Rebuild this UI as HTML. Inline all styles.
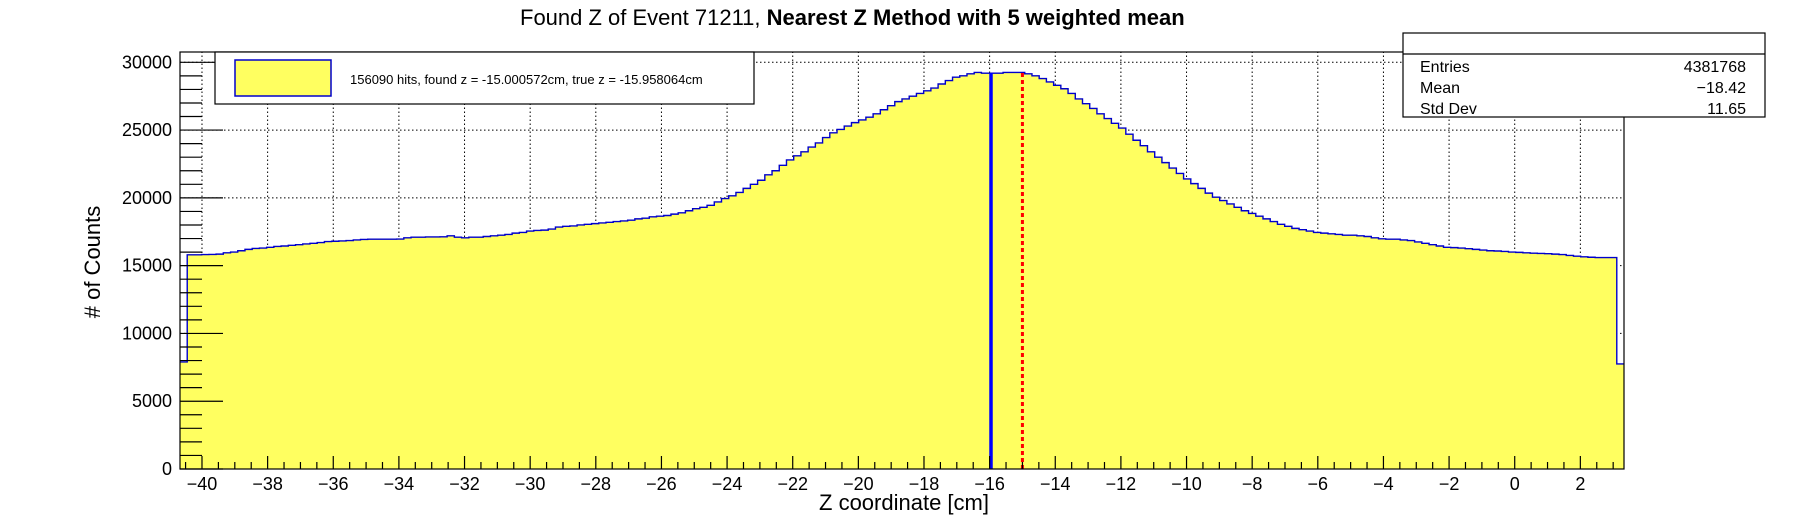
<!DOCTYPE html>
<html><head><meta charset="utf-8">
<style>
html,body{margin:0;padding:0;background:#fff;}
svg{display:block;font-family:"Liberation Sans",sans-serif;}
</style></head>
<body>
<svg id="chart" width="1796" height="522" viewBox="0 0 1796 522" xmlns="http://www.w3.org/2000/svg">
<text x="520" y="25" font-size="22">Found Z of Event 71211,   <tspan font-weight="bold">Nearest Z Method with 5 weighted mean</tspan></text>
<g id="grid"></g>
<g id="hist"></g>
<g id="marks"></g>
<g id="axes"></g>
<text x="904" y="510" font-size="22" text-anchor="middle">Z coordinate [cm]</text>
<text transform="translate(100,262) rotate(-90)" font-size="22" text-anchor="middle"># of Counts</text>
<g>
<rect x="215" y="52" width="539" height="52" fill="#fff" stroke="#000" stroke-width="1.2"/>
<rect x="235" y="60" width="96" height="36" fill="#ffff60" stroke="#0000cc" stroke-width="1.5"/>
<text x="350" y="84" font-size="13">156090 hits, found z = -15.000572cm, true z = -15.958064cm</text>
</g>
<g>
<rect x="1403" y="33" width="362" height="84" fill="#fff" stroke="#000" stroke-width="1.2"/>
<line x1="1403" y1="54" x2="1765" y2="54" stroke="#000" stroke-width="1.2"/>
<text x="1420" y="72" font-size="16">Entries</text>
<text x="1746" y="72" font-size="16" text-anchor="end">4381768</text>
<text x="1420" y="93" font-size="16">Mean</text>
<text x="1746" y="93" font-size="16" text-anchor="end">−18.42</text>
<text x="1420" y="114" font-size="16">Std Dev</text>
<text x="1746" y="114" font-size="16" text-anchor="end">11.65</text>
</g>
</svg>
<script>
const binStart = -40.67;
const binWidth = 0.22;
const counts = [7900,15800,15800,15820,15830,15850,15950,16000,16100,16200,
16270,16300,16350,16420,16450,16500,16550,16600,16650,16700,
16780,16800,16820,16850,16900,16930,16950,16950,16950,16950,
16960,17050,17100,17100,17120,17120,17130,17200,17100,17050,
17100,17100,17150,17200,17250,17300,17400,17450,17550,17600,
17620,17700,17850,17900,17930,18000,18050,18100,18150,18200,
18250,18300,18350,18450,18500,18600,18650,18700,18800,18900,
19050,19200,19300,19450,19700,19950,20150,20400,20700,21000,
21300,21700,22000,22400,22800,23100,23400,23750,24050,24450,
24800,25050,25300,25550,25750,25950,26200,26500,26800,27100,
27300,27500,27700,27900,28100,28400,28650,28900,29000,29150,
29250,29200,29200,29200,29250,29250,29250,29150,29000,28800,
28550,28300,28050,27700,27300,26950,26600,26200,25850,25500,
25150,24700,24250,23850,23400,23000,22600,22200,21800,21400,
21050,20700,20350,20050,19800,19550,19300,19050,18850,18650,
18450,18250,18050,17900,17750,17650,17550,17450,17400,17350,
17300,17250,17250,17200,17150,17050,16980,16950,16950,16900,
16850,16750,16650,16550,16450,16350,16330,16300,16250,16200,
16150,16100,16080,16050,16000,15980,15950,15920,15900,15880,
15850,15820,15750,15700,15650,15620,15600,15600,15600,7750];
const xTicks = [-40,-38,-36,-34,-32,-30,-28,-26,-24,-22,-20,-18,-16,-14,-12,-10,-8,-6,-4,-2,0,2];
const yTicks = [0,5000,10000,15000,20000,25000,30000];
const trueZ = -15.958064;
const foundZ = -15.000572;

const X0=180, X1=1624, Y0=469, Y1=52;
const xMin=-40.67, xMax=3.33, yMin=0, yMax=30760;
const sx = v => X0 + (v-xMin)/(xMax-xMin)*(X1-X0);
const sy = v => Y0 - (v-yMin)/(yMax-yMin)*(Y0-Y1);
const NS="http://www.w3.org/2000/svg";
function mk(tag, attrs, parent){const e=document.createElementNS(NS,tag);for(const k in attrs)e.setAttribute(k,attrs[k]);parent.appendChild(e);return e;}
const grid=document.getElementById('grid'), hist=document.getElementById('hist'), marks=document.getElementById('marks'), axes=document.getElementById('axes');

let d=`M${sx(binStart)},${sy(0)}`;
counts.forEach((c,i)=>{const a=sx(binStart+i*binWidth), b=sx(binStart+(i+1)*binWidth); d+=` L${a},${sy(c)} L${b},${sy(c)}`;});
d+=` L${sx(binStart+counts.length*binWidth)},${sy(0)} Z`;
const fill=mk('path',{d:d,fill:'#ffff60',stroke:'none'},hist);


let o='';
counts.forEach((c,i)=>{const a=sx(binStart+i*binWidth), b=sx(binStart+(i+1)*binWidth); o+=(i?' L':'M')+`${a},${sy(c)} L${b},${sy(c)}`;});
const outl=mk('path',{d:o,fill:'none',stroke:'#0000cc','stroke-width':1.4},hist);



xTicks.forEach(t=>{const g=mk('line',{x1:sx(t),x2:sx(t),y1:Y0,y2:Y1,stroke:'#000','stroke-width':1,'stroke-dasharray':'1.5,2.5'},grid);

});
yTicks.forEach(t=>{const g=mk('line',{x1:X0,x2:X1,y1:sy(t),y2:sy(t),stroke:'#000','stroke-width':1,'stroke-dasharray':'1.5,2.5'},grid);

});

const binOf = z => counts[Math.min(counts.length-1,Math.max(0,Math.floor((z-binStart)/binWidth)))];
const tl=mk('line',{x1:sx(trueZ),x2:sx(trueZ),y1:sy(0),y2:sy(binOf(trueZ)),stroke:'#0000ff','stroke-width':3.5},marks);


const fl=mk('line',{x1:sx(foundZ),x2:sx(foundZ),y1:sy(0),y2:sy(binOf(foundZ)),stroke:'#ff0000','stroke-width':3,'stroke-dasharray':'4,3'},marks);



const fr=mk('rect',{x:X0,y:Y1,width:X1-X0,height:Y0-Y1,fill:'none',stroke:'#000','stroke-width':1.2},axes);


for(let v=-40.5; v<=3.3; v+=0.5){const major=Math.abs(v-Math.round(v/2)*2)<1e-6;
 mk('line',{x1:sx(v),x2:sx(v),y1:Y0,y2:Y0-(major?13:7),stroke:'#000','stroke-width':1.2},axes);}
xTicks.forEach(t=>{const tx=mk('text',{x:sx(t),y:490,'font-size':18,'text-anchor':'middle'},axes);tx.textContent=(t<0?'−':'')+Math.abs(t);

});
for(let v=0; v<=30000; v+=1000){const major=v%5000===0;
 mk('line',{x1:X0,x2:X0+(major?43:22),y1:sy(v),y2:sy(v),stroke:'#000','stroke-width':1.2},axes);}
yTicks.forEach(t=>{const ty=mk('text',{x:172,y:sy(t)+6,'font-size':18,'text-anchor':'end'},axes);ty.textContent=String(t);

});
</script>
</body></html>
